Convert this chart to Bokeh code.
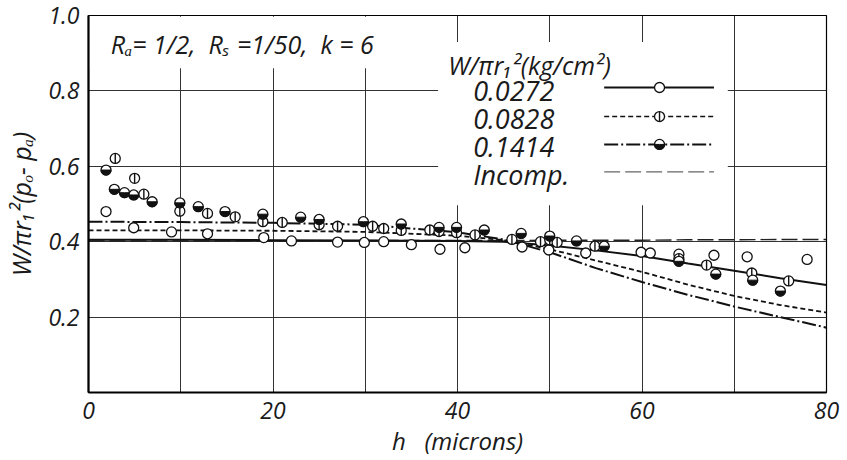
import numpy as np
from bokeh.plotting import figure
from bokeh.models import Range1d, FixedTicker, Label, PrintfTickFormatter
from bokeh.embed import file_html
from bokeh.resources import INLINE

# ---------------- data ----------------
h_curve = [0, 10, 20, 30, 40, 45, 50, 55, 60, 65, 70, 75, 80]
c_0272 = [0.405, 0.405, 0.404, 0.403, 0.402, 0.400, 0.390, 0.377, 0.362, 0.342, 0.323, 0.303, 0.285]
c_0828 = [0.430, 0.430, 0.429, 0.426, 0.416, 0.404, 0.380, 0.350, 0.320, 0.286, 0.256, 0.232, 0.212]
c_1414 = [0.453, 0.452, 0.450, 0.445, 0.425, 0.406, 0.372, 0.330, 0.293, 0.259, 0.228, 0.200, 0.172]
c_incomp = [0.402, 0.402, 0.402, 0.403, 0.403, 0.403, 0.404, 0.404, 0.404, 0.405, 0.405, 0.406, 0.406]

h_0272 = [1.9, 4.9, 9.0, 12.9, 19.0, 22.0, 27.0, 29.9, 32.0, 35.0, 38.1, 40.8, 47.0, 49.9, 53.9,
          59.9, 60.9, 64.0, 67.8, 71.4, 77.9]
w_0272 = [0.480, 0.437, 0.426, 0.421, 0.411, 0.402, 0.399, 0.398, 0.400, 0.392, 0.380, 0.384, 0.386,
          0.378, 0.370, 0.372, 0.370, 0.367, 0.364, 0.360, 0.353]

h_0828 = [2.9, 5.0, 6.0, 9.9, 12.9, 15.9, 18.9, 21.0, 25.0, 27.0, 30.8, 32.0, 33.9, 37.0, 38.0,
          39.9, 41.9, 45.9, 49.0, 50.0, 50.8, 54.9, 64.0, 67.0, 71.9, 75.9]
w_0828 = [0.621, 0.568, 0.526, 0.481, 0.475, 0.466, 0.453, 0.451, 0.445, 0.441, 0.441, 0.435, 0.430,
          0.431, 0.427, 0.424, 0.418, 0.406, 0.400, 0.405, 0.398, 0.388, 0.355, 0.338, 0.317, 0.296]

h_1414 = [1.9, 2.8, 3.9, 4.9, 6.9, 9.9, 11.9, 14.8, 18.9, 23.0, 25.0, 29.8, 33.9, 38.0, 39.9, 42.9,
          46.9, 50.0, 52.9, 55.9, 64.0, 68.0, 72.0, 75.0]
w_1414 = [0.590, 0.539, 0.530, 0.524, 0.506, 0.503, 0.493, 0.480, 0.473, 0.465, 0.459, 0.453, 0.447,
          0.438, 0.438, 0.431, 0.422, 0.415, 0.402, 0.388, 0.348, 0.314, 0.298, 0.269]

x_ticks = [0, 20, 40, 60, 80]
y_ticks = [0.2, 0.4, 0.6, 0.8, 1.0]
legend_title = "W/\u03c0r\u2081\u00b2(kg/cm\u00b2)"
legend_labels = ["0.0272", "0.0828", "0.1414", "Incomp."]
annotation_text = "R\u2090= 1/2,\u00a0 R\u209b =1/50,\u00a0 k = 6"
x_label = "h\u00a0\u00a0\u00a0(microns)"
y_label = "W/\u03c0r\u2081\u00b2(p\u2092- p\u2090)"

FONT = "Open Sans"
INK = "#1a1a1a"

# ---------------- figure ----------------
p = figure(width=847, height=460, output_backend="svg", toolbar_location=None,
           x_range=Range1d(0, 80), y_range=Range1d(0, 1.0),
           min_border_left=88, min_border_right=21, min_border_top=15, min_border_bottom=68)
p.background_fill_color = "white"
p.border_fill_color = "white"
p.outline_line_color = "black"
p.outline_line_width = 1.2

for ax in (p.xaxis[0], p.yaxis[0]):
    ax.major_tick_line_color = None
    ax.minor_tick_line_color = None
    ax.major_tick_out = 0
    ax.major_tick_in = 0
    ax.axis_line_width = 2.2
    ax.axis_line_color = "black"
    ax.major_label_text_font = FONT
    ax.major_label_text_font_style = "italic"
    ax.major_label_text_font_size = "23px"
    ax.major_label_text_color = INK
    ax.axis_label_text_font = FONT
    ax.axis_label_text_font_style = "italic"
    ax.axis_label_text_font_size = "24px"
    ax.axis_label_text_color = INK
    ax.major_label_standoff = 9

p.xaxis.ticker = FixedTicker(ticks=x_ticks)
p.yaxis.ticker = FixedTicker(ticks=y_ticks)
p.yaxis.formatter = PrintfTickFormatter(format="%.1f")
p.xaxis.axis_label = x_label
p.yaxis.axis_label = y_label
p.xaxis.axis_label_standoff = 2
p.yaxis.axis_label_standoff = 7
p.yaxis.axis_label_text_font_size = "25px"

p.xgrid.ticker = FixedTicker(ticks=list(range(0, 81, 10)))
p.ygrid.ticker = FixedTicker(ticks=y_ticks)
for g in (p.xgrid[0], p.ygrid[0]):
    g.grid_line_color = "#333333"
    g.grid_line_width = 1
    g.grid_line_alpha = 1.0

# white boxes behind annotation and legend (hide grid)
p.quad(left=[0, 37.9], right=[36, 69.3], bottom=[0.86, 0.497], top=[0.997, 0.93],
       fill_color="white", line_color=None)

# ---------------- curves ----------------
p.line(h_curve, c_incomp, line_color="#222222", line_width=1.4, line_dash="16 5")
p.line(h_curve, c_0272, line_color="#111111", line_width=2.0)
p.line(h_curve, c_0828, line_color="#111111", line_width=1.8, line_dash="5 3")
p.line(h_curve, c_1414, line_color="#111111", line_width=2.0, line_dash="14 3 2 3")

# ---------------- markers ----------------
MS = 10
R = MS / 2


def open_circle(xs, ys):
    p.scatter(xs, ys, marker="circle", size=MS, fill_color="white", line_color="#111111", line_width=1.3)


def bar_circle(xs, ys):
    p.scatter(xs, ys, marker="circle", size=MS, fill_color="white", line_color="#111111", line_width=1.3)
    p.scatter(xs, ys, marker="dash", size=MS, angle=np.pi / 2, line_color="#111111", line_width=1.4)


def half_circle(xs, ys):
    p.scatter(xs, ys, marker="circle", size=MS, fill_color="white", line_color="#111111", line_width=1.3)
    p.wedge(xs, ys, radius=R, radius_units="screen", start_angle=np.pi, end_angle=2 * np.pi,
            fill_color="#111111", line_color="#111111", line_width=1)


open_circle(h_0272, w_0272)
bar_circle(h_0828, w_0828)
half_circle(h_1414, w_1414)

# ---------------- annotation ----------------
p.add_layout(Label(x=2.4, y=0.925, text=annotation_text, text_font=FONT, text_font_style="italic",
                   text_font_size="25px", text_baseline="middle", text_color=INK))

# ---------------- legend (hand drawn) ----------------
p.add_layout(Label(x=39.0, y=0.870, text=legend_title, text_font=FONT, text_font_style="italic",
                   text_font_size="25px", text_baseline="middle", text_color=INK))
row_y = [0.800, 0.725, 0.651, 0.578]
for lab, yy in zip(legend_labels, row_y):
    p.add_layout(Label(x=41.7, y=yy, text=lab, text_font=FONT, text_font_style="italic",
                       text_font_size="27px", text_baseline="middle", text_color=INK))

lx0, lx1, lxm = 55.9, 67.8, 61.9
line_y = [0.809, 0.732, 0.658, 0.585]
p.line([lx0, lx1], [line_y[0]] * 2, line_color="#111111", line_width=2.0)
p.line([lx0, lx1], [line_y[1]] * 2, line_color="#111111", line_width=1.6, line_dash="5 3")
p.line([lx0, lx1], [line_y[2]] * 2, line_color="#111111", line_width=2.0, line_dash="14 3 2 3")
p.line([lx0, lx1], [line_y[3]] * 2, line_color="#666666", line_width=1.2, line_dash="16 5")
open_circle([lxm], [line_y[0]])
bar_circle([lxm], [line_y[1]])
half_circle([lxm], [line_y[2]])

open("out.html", "w").write(file_html(p, INLINE))
